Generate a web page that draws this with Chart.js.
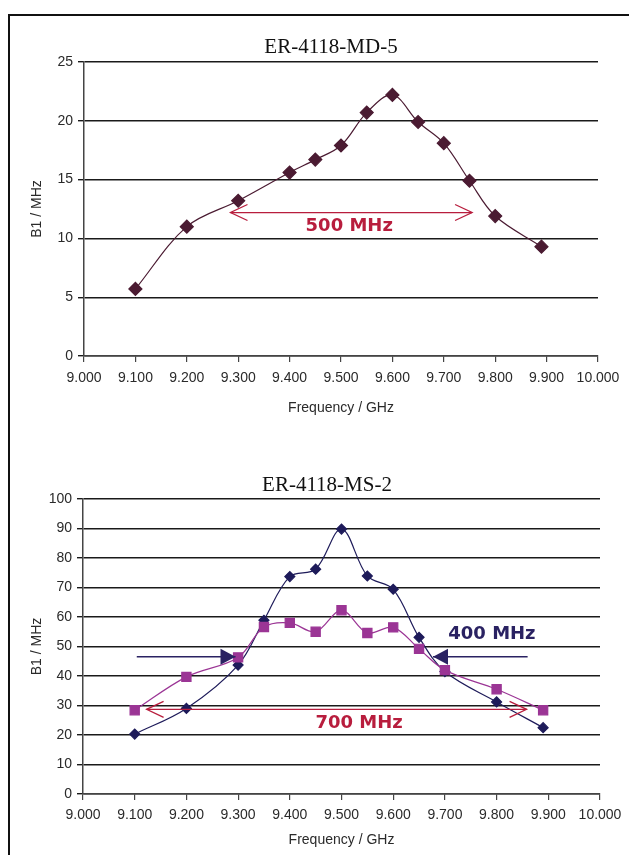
<!DOCTYPE html>
<html><head><meta charset="utf-8">
<script src="https://cdn.jsdelivr.net/npm/chart.js@4/dist/chart.umd.min.js"></script>
<style>
html,body{margin:0;padding:0;background:#fff;overflow:hidden;width:629px;height:855px;}
#frame{position:absolute;left:8px;top:14px;width:700px;height:900px;border-left:2px solid #111;border-top:2px solid #111;}
.wrap{position:absolute;left:0;}
canvas{display:block;}
</style></head><body>
<div id="frame"></div>
<div class="wrap" style="top:0px"><canvas id="c1" width="660" height="440"></canvas></div>
<div class="wrap" style="top:440px"><canvas id="c2" width="660" height="415"></canvas></div>
<script>
// ---- data ----
const titleMD5 = 'ER-4118-MD-5';
const titleMS2 = 'ER-4118-MS-2';
const xTitle = 'Frequency / GHz';
const yTitle = 'B1 / MHz';

const freqMD5 = [9.10, 9.20, 9.30, 9.40, 9.45, 9.50, 9.55, 9.60, 9.65, 9.70, 9.75, 9.80, 9.89];
const b1MD5   = [5.7, 11.0, 13.2, 15.6, 16.7, 17.9, 20.7, 22.2, 19.9, 18.1, 14.9, 11.9, 9.3];

const freqMS2       = [9.10, 9.20, 9.30, 9.35, 9.40, 9.45, 9.50, 9.55, 9.60, 9.65, 9.70, 9.80, 9.89];
const b1MS2Navy     = [20.3, 29.0, 43.7, 58.9, 73.7, 76.2, 89.8, 73.9, 69.4, 53.1, 41.5, 31.2, 22.5];
const b1MS2Magenta  = [28.4, 39.7, 46.3, 56.6, 58.0, 55.0, 62.3, 54.6, 56.5, 49.2, 42.0, 35.5, 28.4];

const xTicks    = [9.0, 9.1, 9.2, 9.3, 9.4, 9.5, 9.6, 9.7, 9.8, 9.9, 10.0];
const yTicksMD5 = [0, 5, 10, 15, 20, 25];
const yTicksMS2 = [0, 10, 20, 30, 40, 50, 60, 70, 80, 90, 100];

// annotations (data units)
const span500   = [9.285, 9.755]; const span500Y = 12.2;
const label500  = '500 MHz';      const label500At = [9.516, 11.05];
const span700   = [9.123, 9.858]; const span700Y = 28.7;
const label700  = '700 MHz';      const label700At = [9.534, 24.1];
const span400L  = [9.104, 9.295]; const span400R = [9.86, 9.677]; const span400Y = 46.5;
const label400  = '400 MHz';      const label400At = [9.791, 54.2];

// ---- styles ----
const RED = '#b81d3d', NAVY = '#2a2262', MAROON = '#4b1b32', NAVYS = '#1e1b5a', MAG = '#9b3595';
const tickFont = {family: "'Liberation Sans', Arial, sans-serif", size: 14};

const annotate = {
  id: 'annotate',
  afterDatasetsDraw(chart, args, o) {
    const ctx = chart.ctx, xs = chart.scales.x, ys = chart.scales.y;
    ctx.save();
    for (const a of (o.arrows || [])) {
      const x1 = xs.getPixelForValue(a.from), x2 = xs.getPixelForValue(a.to), y = ys.getPixelForValue(a.y);
      ctx.strokeStyle = a.color; ctx.fillStyle = a.color; ctx.lineWidth = a.width;
      ctx.beginPath(); ctx.moveTo(x1, y); ctx.lineTo(x2, y); ctx.stroke();
      const heads = a.both ? [[x1, x1 < x2 ? -1 : 1], [x2, x2 > x1 ? 1 : -1]] : [[x2, x2 > x1 ? 1 : -1]];
      for (const [tx, d] of heads) {
        if (a.filled) {
          ctx.beginPath(); ctx.moveTo(tx, y); ctx.lineTo(tx - d * 15, y - 8); ctx.lineTo(tx - d * 15, y + 8); ctx.closePath(); ctx.fill();
        } else {
          ctx.beginPath(); ctx.moveTo(tx - d * 17, y - 8); ctx.lineTo(tx, y); ctx.lineTo(tx - d * 17, y + 8); ctx.stroke();
        }
      }
    }
    for (const l of (o.labels || [])) {
      ctx.font = "bold 18px 'DejaVu Sans', Verdana, sans-serif";
      ctx.fillStyle = l.color; ctx.textAlign = 'center'; ctx.textBaseline = 'middle';
      ctx.fillText(l.text, xs.getPixelForValue(l.at[0]), ys.getPixelForValue(l.at[1]));
    }
    if (o.title) {
      ctx.font = "21px 'Liberation Serif', 'Times New Roman', serif";
      ctx.fillStyle = '#111'; ctx.textAlign = 'center'; ctx.textBaseline = 'middle';
      ctx.fillText(o.title.text, o.title.x, o.title.y);
    }
    ctx.restore();
  }
};

function scales(yTicks, yMax, c) {
  return {
    x: {
      type: 'linear', min: 9, max: 10,
      afterBuildTicks: s => { s.ticks = xTicks.map(v => ({value: v})); },
      afterFit: s => { s.height = c.xh; },
      ticks: {callback: v => Number(v).toFixed(3), maxRotation: 0, minRotation: 0, autoSkip: false, padding: c.xpad, color: '#2a2a2a', font: tickFont},
      grid: {drawOnChartArea: false, drawTicks: true, tickLength: 6, color: '#444', lineWidth: 1.2},
      border: {color: '#444', width: 1.5},
      title: {display: true, text: xTitle, color: '#2a2a2a', font: tickFont, padding: {top: 0, bottom: c.xtp}}
    },
    y: {
      type: 'linear', min: 0, max: yMax,
      afterBuildTicks: s => { s.ticks = yTicks.map(v => ({value: v})); },
      afterFit: s => { s.width = c.yw; },
      ticks: {padding: 5, color: '#2a2a2a', font: tickFont},
      grid: {color: '#1a1a1a', lineWidth: 1.4, tickLength: 6},
      border: {color: '#444', width: 1.5},
      title: {display: true, text: yTitle, color: '#2a2a2a', font: tickFont, padding: {top: 28.6, bottom: 0}}
    }
  };
}

const pts = (xs, ys) => xs.map((x, i) => ({x: x, y: ys[i]}));

new Chart(document.getElementById('c1'), {
  type: 'scatter',
  data: {datasets: [{
    data: pts(freqMD5, b1MD5), showLine: true, tension: 0.35,
    borderColor: MAROON, borderWidth: 1.2, backgroundColor: MAROON,
    pointStyle: 'rectRot', pointRadius: 6.5, pointBorderColor: MAROON, pointBackgroundColor: MAROON
  }]},
  options: {
    responsive: false, animation: false, devicePixelRatio: 1,
    layout: {padding: {left: 0, right: 62, top: 62, bottom: 14}},
    plugins: {
      legend: {display: false}, tooltip: {enabled: false}, title: {display: false},
      annotate: {
        arrows: [{from: span500[0], to: span500[1], y: span500Y, both: true, filled: false, color: RED, width: 1.3}],
        labels: [{text: label500, at: label500At, color: RED}],
        title: {text: titleMD5, x: 331, y: 47}
      }
    },
    scales: scales(yTicksMD5, 25, {xh: 70, xpad: 8, xtp: 9.6, yw: 84})
  },
  plugins: [annotate]
});

new Chart(document.getElementById('c2'), {
  type: 'scatter',
  data: {datasets: [
    {data: pts(freqMS2, b1MS2Magenta), showLine: true, tension: 0.35, order: 1,
     borderColor: MAG, borderWidth: 1.2, backgroundColor: MAG,
     pointStyle: 'rect', pointRadius: 6.5, pointBorderColor: MAG, pointBackgroundColor: MAG},
    {data: pts(freqMS2, b1MS2Navy), showLine: true, tension: 0.35, order: 2,
     borderColor: NAVYS, borderWidth: 1.2, backgroundColor: NAVYS,
     pointStyle: 'rectRot', pointRadius: 5, pointBorderColor: NAVYS, pointBackgroundColor: NAVYS}
  ]},
  options: {
    responsive: false, animation: false, devicePixelRatio: 1,
    layout: {padding: {left: 0, right: 60, top: 59, bottom: 1}},
    plugins: {
      legend: {display: false}, tooltip: {enabled: false}, title: {display: false},
      annotate: {
        arrows: [
          {from: span700[0], to: span700[1], y: span700Y, both: true, filled: false, color: RED, width: 1.3},
          {from: span400L[0], to: span400L[1], y: span400Y, both: false, filled: true, color: NAVY, width: 1.5},
          {from: span400R[0], to: span400R[1], y: span400Y, both: false, filled: true, color: NAVY, width: 1.5}
        ],
        labels: [{text: label700, at: label700At, color: RED}, {text: label400, at: label400At, color: NAVY}],
        title: {text: titleMS2, x: 327, y: 45}
      }
    },
    scales: scales(yTicksMS2, 100, {xh: 60, xpad: 7, xtp: 5.6, yw: 83})
  },
  plugins: [annotate]
});
</script>
</body></html>
